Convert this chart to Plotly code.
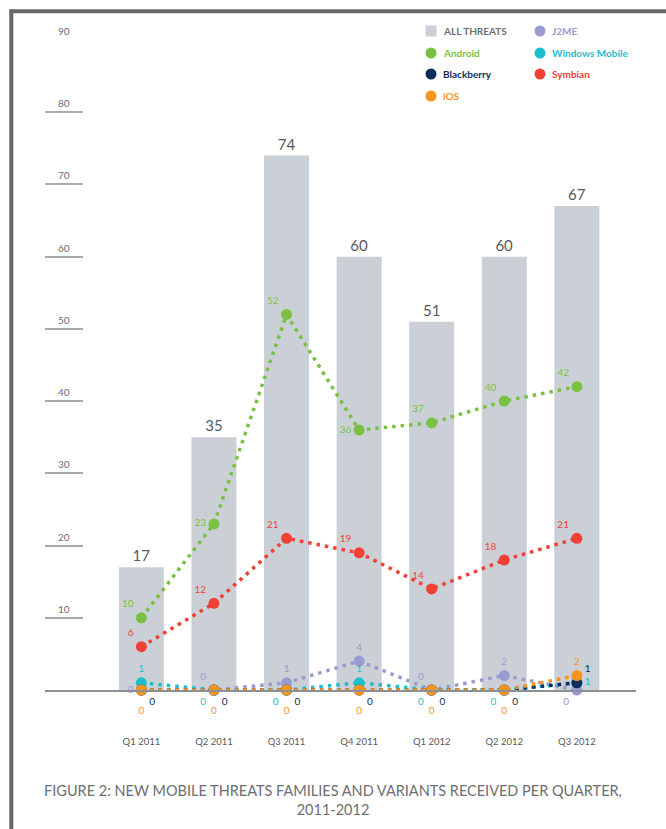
import plotly.graph_objects as go

# ---------------- data ----------------
quarters = ["Q1 2011", "Q2 2011", "Q3 2011", "Q4 2011", "Q1 2012", "Q2 2012", "Q3 2012"]
all_threats = [17, 35, 74, 60, 51, 60, 67]
android = [10, 23, 52, 36, 37, 40, 42]
symbian = [6, 12, 21, 19, 14, 18, 21]
j2me = [0, 0, 1, 4, 0, 2, 0]
windows_mobile = [1, 0, 0, 1, 0, 0, 1]
blackberry = [0, 0, 0, 0, 0, 0, 1]
ios = [0, 0, 0, 0, 0, 0, 2]
y_ticks = [10, 20, 30, 40, 50, 60, 70, 80, 90]
title_text = "FIGURE 2: NEW MOBILE THREATS FAMILIES AND VARIANTS RECEIVED PER QUARTER,<br>2011-2012"

# ---------------- styles ----------------
FONT = "Lato"
C_BAR = "#cbd0d6"
C_TEXT = "#6d6e71"
C_DARK = "#58595b"
C_ANDROID = "#7ac143"
C_SYMBIAN = "#ef4135"
C_J2ME = "#9b9bd2"
C_WM = "#1cbfcc"
C_BB = "#0b2c5c"
C_IOS = "#f7941d"

W, H = 666, 829
L, R, T, B = 45, 30, 40, 139
PW, PH = W - L - R, H - T - B

def px_x(p):
    return (p - L) / PW

def px_y(p):
    return (H - B - p) / PH

idx = list(range(len(quarters)))

fig = go.Figure()

fig.add_trace(go.Bar(
    x=idx, y=all_threats, name="ALL THREATS",
    marker=dict(color=C_BAR, line=dict(width=0)),
    width=0.62,
    text=[str(v) for v in all_threats], textposition="outside",
    textfont=dict(family=FONT, size=15, color=C_DARK),
    cliponaxis=False, showlegend=False,
))

def series(vals, name, color, positions, zero_offset=None):
    if zero_offset:
        main_text = [str(v) if v != 0 else "" for v in vals]
    else:
        main_text = [str(v) for v in vals]
    fig.add_trace(go.Scatter(
        x=idx, y=vals, name=name, mode="lines+markers+text",
        line=dict(color=color, width=3.5, dash="3.5px,5px"),
        marker=dict(color=color, size=11),
        text=main_text, textposition=positions,
        textfont=dict(family=FONT, size=10, color=color),
        cliponaxis=False, showlegend=False,
    ))
    if zero_offset:
        # zero labels pushed further below the baseline
        fig.add_trace(go.Scatter(
            x=idx, y=vals, name=name + " labels", mode="markers+text",
            marker=dict(color="rgba(0,0,0,0)", size=zero_offset),
            text=[str(v) if v == 0 else "" for v in vals], textposition=positions,
            textfont=dict(family=FONT, size=10, color=color),
            cliponaxis=False, showlegend=False, hoverinfo="skip",
        ))

series(j2me, "J2ME", C_J2ME,
       ["middle left", "top left", "top center", "top center", "top left", "top center", "bottom left"])
series(windows_mobile, "Windows Mobile", C_WM,
       ["top center", "bottom left", "bottom left", "top center", "bottom left", "bottom left", "middle right"])
series(blackberry, "Blackberry", C_BB,
       ["bottom right"] * 6 + ["top right"])
series(ios, "iOS", C_IOS,
       ["bottom center"] * 6 + ["top center"], zero_offset=24)
series(symbian, "Symbian", C_SYMBIAN, ["top left"] * 7)
series(android, "Android", C_ANDROID,
       ["top left", "middle left", "top left", "middle left", "top left", "top left", "top left"])

annotations = []
# y tick labels above the short tick lines
for v in y_ticks:
    annotations.append(dict(
        x=px_x(64), xref="paper", y=v, yref="y", text=str(v), showarrow=False,
        xanchor="center", yanchor="bottom", yshift=1,
        font=dict(family=FONT, size=10, color=C_TEXT),
    ))

# manual legend
legend_items = [
    ("ALL THREATS", C_BAR, C_TEXT, "square", 431, 31),
    ("J2ME", C_J2ME, C_J2ME, "circle", 540, 31),
    ("Android", C_ANDROID, C_ANDROID, "circle", 431, 53),
    ("Windows Mobile", C_WM, C_WM, "circle", 540, 53),
    ("Blackberry", C_BB, C_BB, "circle", 431, 74),
    ("Symbian", C_SYMBIAN, C_SYMBIAN, "circle", 540, 74),
    ("iOS", C_IOS, C_IOS, "circle", 431, 96),
]
shapes = []
for name, mcol, tcol, sym, lx, ly in legend_items:
    shapes.append(dict(
        type="rect" if sym == "square" else "circle",
        xref="paper", yref="paper", xsizemode="pixel", ysizemode="pixel",
        xanchor=px_x(lx), yanchor=px_y(ly),
        x0=-5.5, x1=5.5, y0=-5.5, y1=5.5,
        fillcolor=mcol, line=dict(width=0),
    ))
    annotations.append(dict(
        x=px_x(lx + 10), xref="paper", y=px_y(ly), yref="paper", text=f"<b>{name}</b>",
        showarrow=False, xanchor="left", yanchor="middle",
        font=dict(family=FONT, size=10, color=tcol),
    ))

# page frame (left and top border)
shapes.append(dict(type="line", xref="paper", yref="paper",
                   x0=px_x(11.3), x1=px_x(11.3), y0=px_y(9.5), y1=px_y(H + 5),
                   line=dict(color="#676767", width=4)))
shapes.append(dict(type="line", xref="paper", yref="paper",
                   x0=px_x(9.5), x1=px_x(W + 5), y0=px_y(11.3), y1=px_y(11.3),
                   line=dict(color="#676767", width=4)))

fig.update_layout(
    width=W, height=H,
    margin=dict(l=L, r=R, t=T, b=B, pad=0),
    paper_bgcolor="white", plot_bgcolor="white",
    font=dict(family=FONT, color=C_TEXT),
    showlegend=False,
    bargap=0.38,
    xaxis=dict(
        range=[-1.328, 6.815], tickvals=idx, ticktext=quarters,
        showgrid=False, zeroline=False, showline=True,
        linecolor="#8c8f93", linewidth=1.5,
        ticks="", ticklabelstandoff=42,
        tickfont=dict(family=FONT, size=9.5, color=C_DARK),
    ),
    yaxis=dict(
        range=[0, 90], tickvals=[0] + y_ticks, showticklabels=False,
        showgrid=False, zeroline=False, showline=False,
        ticks="inside", ticklen=38, tickwidth=1.5, tickcolor="#a7a9ac",
    ),
    title=dict(
        text=title_text, x=0.5, xanchor="center", xref="container",
        y=(H - 796) / H, yref="container", yanchor="middle",
        font=dict(family=FONT, size=14.5, color=C_TEXT),
    ),
    annotations=annotations,
    shapes=shapes,
)

fig.write_html("out.html", config={"displayModeBar": False},
               post_script="document.body.style.margin='0px';")
